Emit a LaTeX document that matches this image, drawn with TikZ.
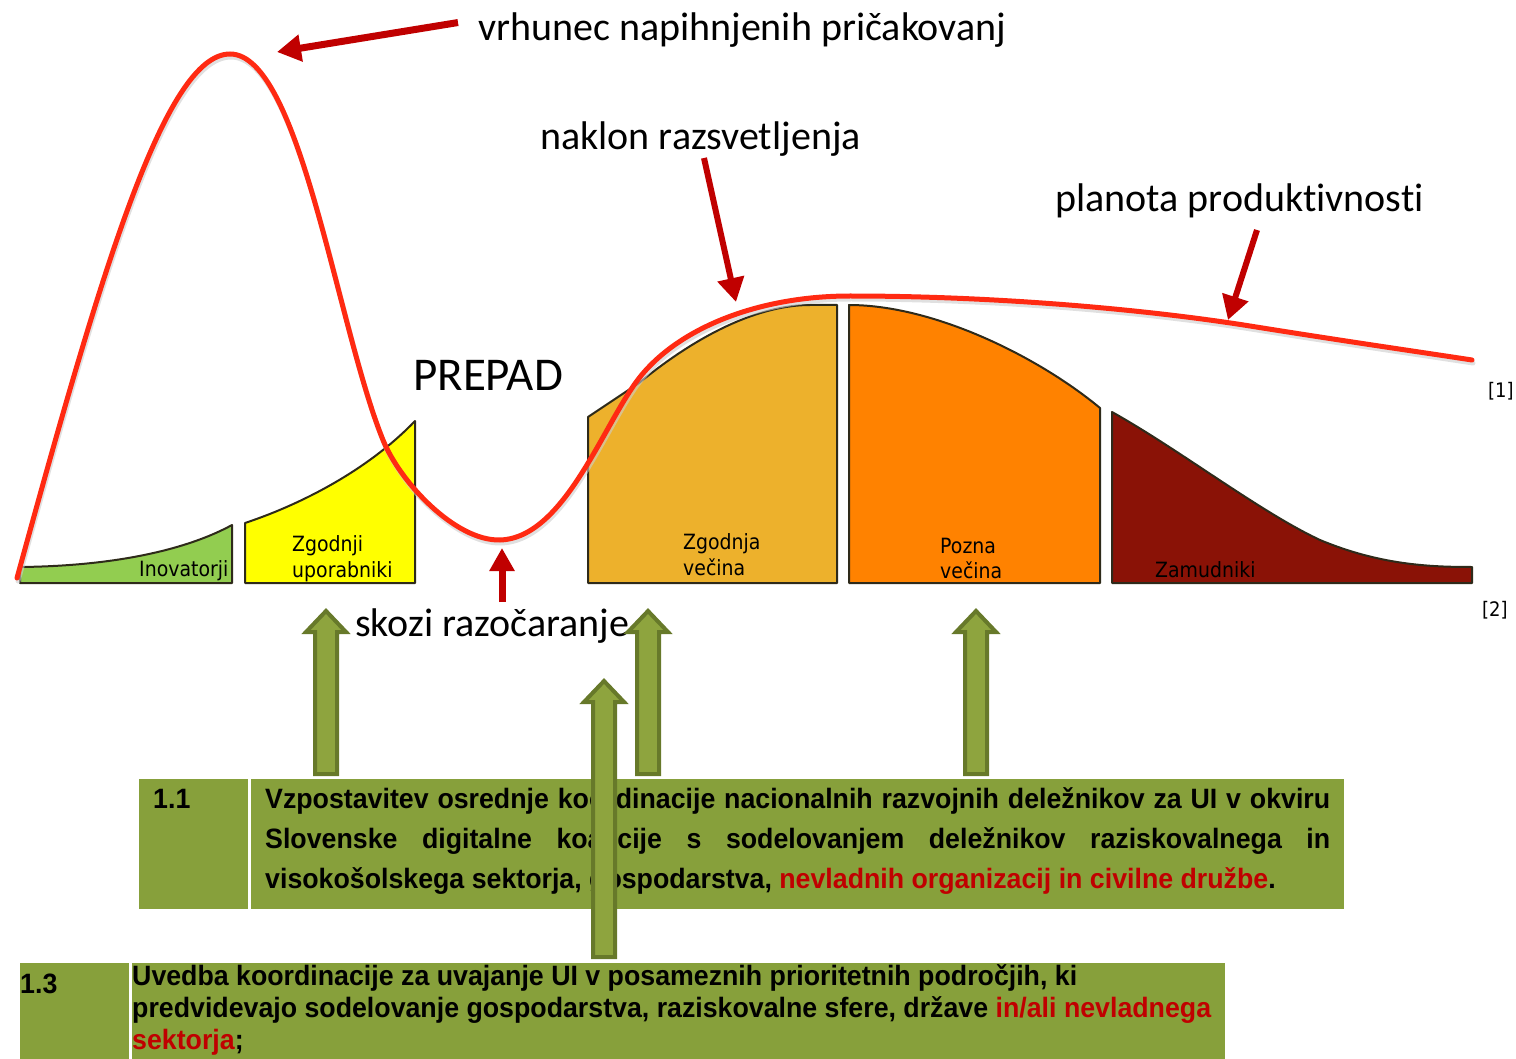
\documentclass[tikz,border=0pt]{standalone}
\usepackage{fontspec}
\setmainfont{Carlito}[Ligatures=NoCommon]
\newfontfamily\catfont[FakeStretch=0.9]{DejaVu Sans}
\newfontfamily\tabfont[FakeStretch=0.955]{Liberation Sans}
\usetikzlibrary{arrows.meta}
\definecolor{curvered}{HTML}{FF2A12}
\definecolor{arrred}{HTML}{C00000}
\definecolor{innov}{HTML}{92CD50}
\definecolor{earlyad}{HTML}{FFFF00}
\definecolor{earlymaj}{HTML}{EDB12C}
\definecolor{latemaj}{HTML}{FF8200}
\definecolor{lagg}{HTML}{8A1206}
\definecolor{segline}{HTML}{2E2A1A}
\definecolor{boxgreen}{HTML}{87A03B}
\definecolor{arrfill}{HTML}{8EA43E}
\definecolor{arrline}{HTML}{67792A}
\definecolor{tabred}{HTML}{C00000}
\tikzset{
  seg/.style={draw=segline, line width=2pt, line join=round},
  catlbl/.style={anchor=base west, inner sep=0pt, font=\catfont\fontsize{21}{25}\selectfont},
  biglbl/.style={anchor=base west, inner sep=0pt, font=\fontsize{40}{48}\selectfont},
  redarr/.style={draw=arrred, line width=7pt, -{Triangle[length=24pt,width=26pt]}},
  garrow/.style={draw=arrline, fill=arrfill, line width=4pt, line join=miter},
  tabtxt/.style={anchor=base west, inner sep=0pt, font=\tabfont\bfseries\fontsize{28}{32}\selectfont},
  refl/.style={anchor=base west, inner sep=0pt, font=\catfont\fontsize{20}{24}\selectfont},
  hype/.style={line width=5pt, line cap=round},
}
\newcommand\greenup[4]{%
  \coordinate (#1) at (#2,#3);
  \draw[garrow] (#2-11,#4) -- (#2-11,#3+21) -- (#2-20,#3+21) -- (#1) -- (#2+20,#3+21) -- (#2+11,#3+21) -- (#2+11,#4) -- cycle;}
\newcommand\hypepath{(17,578) .. controls (101,272) and (165,54) .. (230,54)
  .. controls (300,54) and (337,327) .. (383,440)
  .. controls (400,482) and (455,541) .. (500,540)
  .. controls (565,538) and (604,422) .. (640,377)
  .. controls (680,327) and (760,296) .. (850,296)
  .. controls (1000,296) and (1150,310) .. (1250,326)
  .. controls (1350,342) and (1420,352) .. (1472,360)}
\begin{document}
\begin{tikzpicture}[x=1pt,y=-1pt]
\useasboundingbox (0,0) rectangle (1516,1059);
% bell segments
\draw[seg, fill=innov] (20,583) -- (20,567) .. controls (120,566) and (190,548) .. (232,525) -- (232,583) -- cycle;
\draw[seg, fill=earlyad] (245,583) -- (245,523) .. controls (305,503) and (370,468) .. (415,421) -- (415,583) -- cycle;
\draw[seg, fill=earlymaj] (588,583) -- (588,417) -- (639,383) .. controls (700,333) and (760,305) .. (810,305) -- (837,305) -- (837,583) -- cycle;
\draw[seg, fill=latemaj] (849,583) -- (849,305) .. controls (935,305) and (1040,358) .. (1100,408) -- (1100,583) -- cycle;
\draw[seg, fill=lagg] (1112,583) -- (1112,412) .. controls (1180,450) and (1260,512) .. (1320,540) .. controls (1380,565) and (1430,567) .. (1472,567) -- (1472,583) -- cycle;
% hype curve
\begin{scope}[transform canvas={shift={(1pt,-3pt)}}]
\draw[hype, gray!40, opacity=0.6] \hypepath;
\end{scope}
\draw[hype, curvered] \hypepath;
% category labels
\node[catlbl] (inov) at (139,576) {Inovatorji};
\node[catlbl] (zu1) at (292,551) {Zgodnji};
\node[catlbl] (zu2) at (292,577) {uporabniki};
\node[catlbl] (zv1) at (683,549) {Zgodnja};
\node[catlbl] (zv2) at (683,575) {večina};
\node[catlbl] (pv1) at (940,553) {Pozna};
\node[catlbl] (pv2) at (940,578) {večina};
\node[catlbl] (zam) at (1155,577) {Zamudniki};
\node[refl] (r1) at (1488,398) {[1]};
\node[refl] (r2) at (1482,616) {[2]};
% big labels
\node[biglbl] (peak) at (478,41) {vrhunec napihnjenih pričakovanj};
\node[biglbl] (slope) at (540,150) {naklon razsvetljenja};
\node[biglbl] (plat) at (1055,212) {planota produktivnosti};
\node[biglbl, font=\fontsize{47}{55}\selectfont] (chasm) at (413,390) {PREPAD};
\node[biglbl] (trough) at (355,636) {skozi razočaranje};
% red arrows
\coordinate (peaktip) at (277,52);
\coordinate (slopetip) at (736,302);
\coordinate (plattip) at (1228,320);
\coordinate (troughtip) at (502,548);
\draw[redarr] (peak.west) ++(-20,-8) -- (peaktip);
\draw[redarr, line width=6pt] (704,158) -- (slopetip);
\draw[redarr, line width=6pt] (1257,230) -- (plattip);
\draw[redarr, -{Triangle[length=23pt,width=24pt]}] (502,602) -- (troughtip);
% box 1.1
\fill[boxgreen] (139,779) rectangle (1344,909);
\draw[white, line width=3pt] (249,779) -- (249,909);
\node[tabtxt] (n11) at (153,808) {1.1};
\node[tabtxt] (t11a) at (265,808) {\makebox[1065pt][s]{Vzpostavitev osrednje koordinacije nacionalnih razvojnih deležnikov za UI v okviru}};
\node[tabtxt] (t11b) at (265,848) {\makebox[1065pt][s]{Slovenske digitalne koalicije s sodelovanjem deležnikov raziskovalnega in}};
\node[tabtxt] (t11c) at (265,888) {visokošolskega sektorja, gospodarstva, \textcolor{tabred}{nevladnih organizacij in civilne družbe}.};
% green arrows
\greenup{ga1}{326}{611}{774}
\greenup{ga2}{648}{611}{774}
\greenup{ga4}{976}{611}{774}
\greenup{ga3}{604}{681}{957}
% box 1.3
\fill[boxgreen] (20,963) rectangle (1225,1059);
\draw[white, line width=3pt] (130,963) -- (130,1059);
\node[tabtxt] (n13) at (20,993) {1.3};
\node[tabtxt] (t13a) at (132,985) {Uvedba koordinacije za uvajanje UI v posameznih prioritetnih področjih, ki};
\node[tabtxt] (t13b) at (132,1017) {predvidevajo sodelovanje gospodarstva, raziskovalne sfere, države \textcolor{tabred}{in/ali nevladnega}};
\node[tabtxt] (t13c) at (132,1049) {\textcolor{tabred}{sektorja};};
\end{tikzpicture}
\end{document}
